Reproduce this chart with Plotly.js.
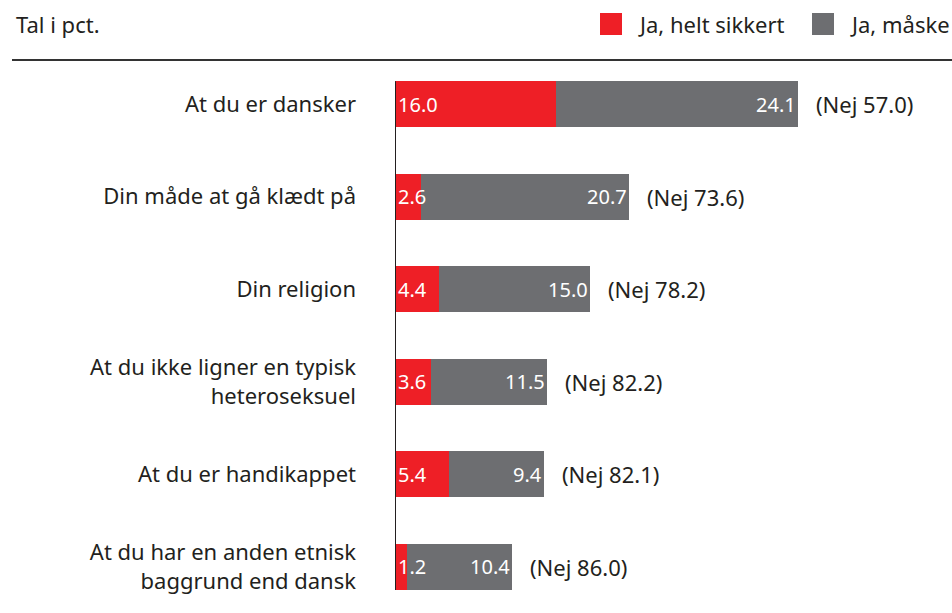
<!DOCTYPE html>
<html>
<head>
<meta charset="utf-8">
<script src="https://cdn.plot.ly/plotly-3.0.1.min.js"></script>
<style>
  html, body { margin: 0; padding: 0; background: #fff; }
  #chart { width: 952px; height: 613px; }
</style>
</head>
<body>
<div id="chart"></div>
<script>
// data (percent)
const categories = [
    "At du er dansker",
    "Din måde at gå klædt på",
    "Din religion",
    "At du ikke ligner en typisk<br>heteroseksuel",
    "At du er handikappet",
    "At du har en anden etnisk<br>baggrund end dansk"
];
const heltSikkert = [16.0, 2.6, 4.4, 3.6, 5.4, 1.2];
const maaske = [24.1, 20.7, 15.0, 11.5, 9.4, 10.4];
const nej = [57.0, 73.6, 78.2, 82.2, 82.1, 86.0];

const seriesNames = ["Ja, helt sikkert", "Ja, måske"];
const seriesColors = ["#ee1f26", "#6d6e71"];

const FONT = "Noto Sans, Open Sans, sans-serif";
const TEXT = "#231f20";

// plot area in pixels, used to place the header items
const W = 952, H = 613, L = 395, T = 58;
function px(x) { return (x - L) / (W - L); }
function py(y) { return 1 - (y - T) / (H - T); }

const idx = categories.map((c, i) => i);

let traces = [heltSikkert, maaske].map((vals, s) => ({
    type: "bar",
    orientation: "h",
    y: idx,
    x: vals,
    width: 0.5,
    name: seriesNames[s],
    marker: {color: seriesColors[s], line: {width: 0}},
    showlegend: false,
    hoverinfo: "skip"
}));

let annotations = [];
idx.forEach(i => {
    let total = heltSikkert[i] + maaske[i];
    annotations.push({
        x: 0, y: i, xref: "x", yref: "y", xanchor: "left", xshift: 1,
        text: heltSikkert[i].toFixed(1), showarrow: false,
        font: {family: FONT, size: 20, color: "#fff"}
    });
    annotations.push({
        x: total, y: i, xref: "x", yref: "y", xanchor: "right", xshift: 0,
        text: maaske[i].toFixed(1), showarrow: false,
        font: {family: FONT, size: 20, color: "#fff"}
    });
    annotations.push({
        x: total, y: i, xref: "x", yref: "y", xanchor: "left", xshift: 16,
        text: "(Nej " + nej[i].toFixed(1) + ")", showarrow: false,
        font: {family: FONT, size: 22, color: TEXT}
    });
});

// header: unit note + legend
annotations.push({
    x: px(14), y: py(24), xref: "paper", yref: "paper", xanchor: "left", yanchor: "middle",
    text: "Tal i pct.", showarrow: false, font: {family: FONT, size: 22, color: TEXT}
});

let shapes = [];
const legX = [600, 812];
seriesNames.forEach((n, s) => {
    shapes.push({
        type: "rect", xref: "paper", yref: "paper",
        x0: px(legX[s]), x1: px(legX[s] + 22), y0: py(35), y1: py(13),
        fillcolor: seriesColors[s], line: {width: 0}
    });
    annotations.push({
        x: px(legX[s] + 36), y: py(24), xref: "paper", yref: "paper",
        xanchor: "left", yanchor: "middle", text: n, showarrow: false,
        font: {family: FONT, size: 22, color: TEXT}
    });
});

// rule under the header
shapes.push({
    type: "line", xref: "paper", yref: "paper",
    x0: px(12), x1: px(952), y0: py(60), y1: py(60),
    line: {color: "#333", width: 2}
});
// zero line
shapes.push({
    type: "line", xref: "x", yref: "y", layer: "above",
    x0: 0, x1: 0, y0: -0.25, y1: categories.length - 0.75,
    line: {color: TEXT, width: 2}
});

Plotly.newPlot("chart", traces, {
    width: W, height: H,
    barmode: "stack",
    margin: {l: L, r: 0, t: T, b: 0},
    paper_bgcolor: "#fff",
    plot_bgcolor: "#fff",
    xaxis: {visible: false, range: [0, 55.4], fixedrange: true},
    yaxis: {
        range: [categories.length - 0.5, -0.5],
        tickmode: "array",
        tickvals: idx,
        ticktext: categories,
        showgrid: false, zeroline: false, showline: false,
        ticks: "",
        ticklabelstandoff: 38,
        tickfont: {family: FONT, size: 22, color: TEXT},
        fixedrange: true
    },
    shapes: shapes,
    annotations: annotations,
    showlegend: false
}, {displayModeBar: false, staticPlot: true});
</script>
</body>
</html>
